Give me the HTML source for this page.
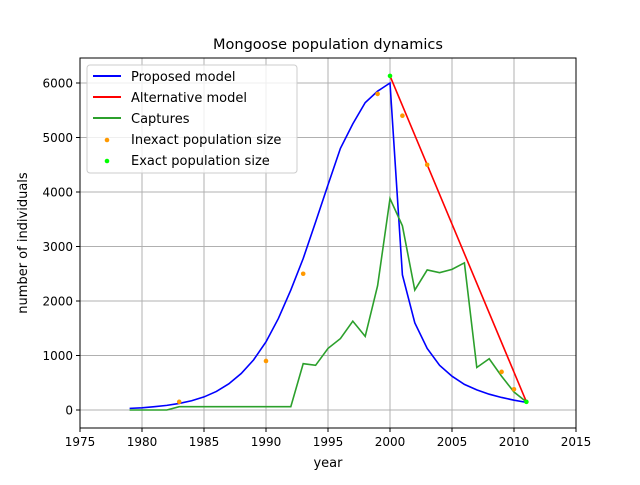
<!DOCTYPE html>
<html><head><meta charset="utf-8"><style>body{margin:0;background:#fff}svg{font-family:"DejaVu Sans","Liberation Sans",sans-serif}</style></head>
<body>
<svg id="chart" width="640" height="480">
<rect x="0" y="0" width="640" height="480" fill="#fff"/>
<g id="grid"></g><g id="series"></g>
<rect x="80" y="58" width="496" height="370" fill="none" stroke="#000" stroke-width="1"/>
<g id="axes"></g>
<text x="328" y="49" text-anchor="middle" font-size="14.5">Mongoose population dynamics</text>
<text x="328" y="467" text-anchor="middle" font-size="13">year</text>
<text x="0" y="0" transform="translate(27,243) rotate(-90)" text-anchor="middle" font-size="13">number of individuals</text>
<g>
<rect x="87" y="65" width="210" height="108" rx="3" fill="#fff" fill-opacity="0.8" stroke="#ccc"/>
<line x1="93" y1="76" x2="121" y2="76" stroke="#0000ff" stroke-width="2"/><text x="131" y="81" font-size="13">Proposed model</text>
<line x1="93" y1="97" x2="121" y2="97" stroke="#ff0000" stroke-width="2"/><text x="131" y="102" font-size="13">Alternative model</text>
<line x1="93" y1="118" x2="121" y2="118" stroke="#2ca02c" stroke-width="2"/><text x="131" y="123" font-size="13">Captures</text>
<circle cx="107" cy="140" r="2.3" fill="#ff9900"/><text x="131" y="144" font-size="13">Inexact population size</text>
<circle cx="107" cy="161" r="2.3" fill="#00ff00"/><text x="131" y="165" font-size="13">Exact population size</text>
</g>
</svg>
<script>
const years=[1979,1980,1981,1982,1983,1984,1985,1986,1987,1988,1989,1990,1991,1992,1993,1994,1995,1996,1997,1998,1999,2000,2001,2002,2003,2004,2005,2006,2007,2008,2009,2010,2011];
const proposed=[30,40,60,85,120,170,240,340,480,670,920,1250,1680,2200,2780,3450,4130,4800,5250,5640,5850,6000,2480,1600,1130,820,620,470,370,290,230,180,140];
const captures=[0,0,0,0,60,60,60,60,60,60,60,60,60,60,850,820,1130,1310,1630,1350,2280,3880,3380,2200,2570,2520,2580,2700,780,940,620,330,150];
const altYears=[2000,2011];
const altValues=[6130,150];
const inexactYears=[1983,1990,1993,1999,2001,2003,2009,2010];
const inexactValues=[150,900,2500,5800,5400,4500,700,380];
const exactYears=[2000,2011];
const exactValues=[6130,150];
const xTicks=[1975,1980,1985,1990,1995,2000,2005,2010,2015];
const yTicks=[0,1000,2000,3000,4000,5000,6000];
const NS="http://www.w3.org/2000/svg";
const X=v=>80+(v-1975)*12.4;
const Y=v=>410-v*0.0545;
function mk(t,a,p){const e=document.createElementNS(NS,t);for(const k in a)e.setAttribute(k,a[k]);p.appendChild(e);return e;}
const g=document.getElementById('grid'),ax=document.getElementById('axes'),s=document.getElementById('series');
xTicks.forEach(t=>{const x=X(t);
const l=mk('line',{x1:x,y1:58,x2:x,y2:428,stroke:'#b0b0b0','stroke-width':1},g);


mk('line',{x1:x,y1:428,x2:x,y2:432,stroke:'#000'},ax);
const tx=mk('text',{x:x,y:446,'text-anchor':'middle','font-size':12},ax);tx.textContent=t;

});
yTicks.forEach(t=>{const y=Y(t);
const l=mk('line',{x1:80,y1:y,x2:576,y2:y,stroke:'#b0b0b0','stroke-width':1},g);


mk('line',{x1:76,y1:y,x2:80,y2:y,stroke:'#000'},ax);
const tx=mk('text',{x:73,y:y+4.5,'text-anchor':'end','font-size':12},ax);tx.textContent=t;

});
function line(xs,ys,c,name){const p=mk('polyline',{points:xs.map((x,i)=>X(x)+','+Y(ys[i])).join(' '),fill:'none',stroke:c,'stroke-width':1.6},s);

}
line(years,proposed,'#0000ff','proposed-model-line');
line(altYears,altValues,'#ff0000','alternative-model-line');
line(years,captures,'#2ca02c','captures-line');
inexactYears.forEach((x,i)=>{const c=mk('circle',{cx:X(x),cy:Y(inexactValues[i]),r:2.3,fill:'#ff9900'},s);

});
exactYears.forEach((x,i)=>{const c=mk('circle',{cx:X(x),cy:Y(exactValues[i]),r:2.3,fill:'#00ff00'},s);

});
</script>
</body></html>
